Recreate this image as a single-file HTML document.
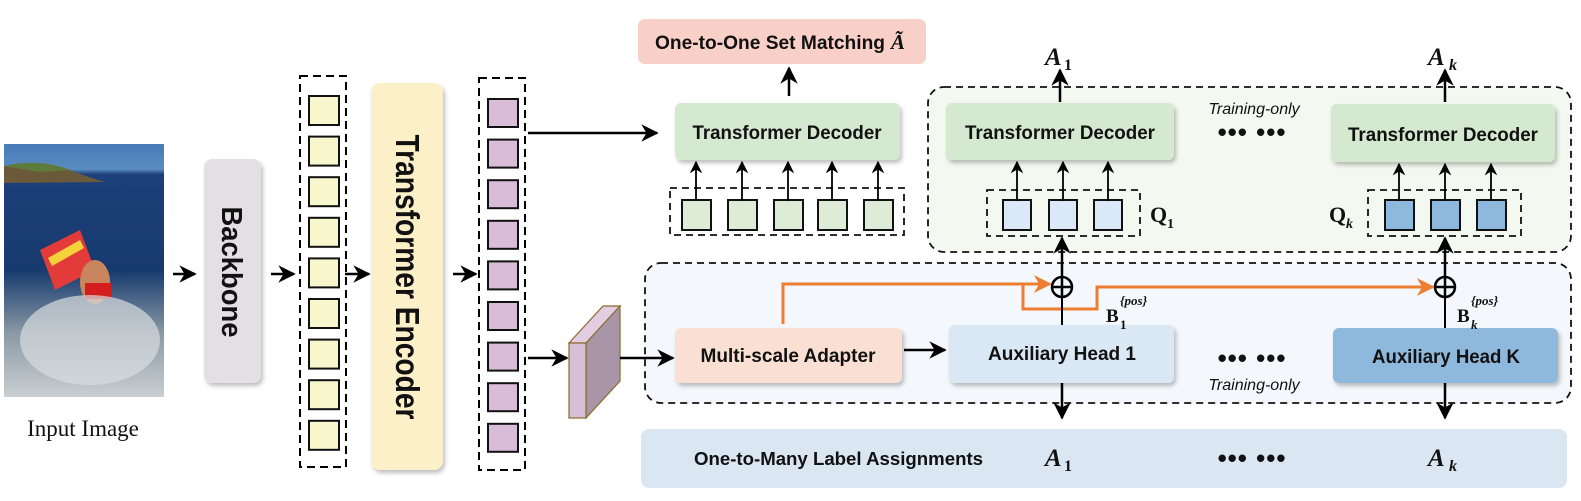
<!DOCTYPE html>
<html><head><meta charset="utf-8"><style>
html,body{margin:0;padding:0;background:#fff}
svg{display:block}
.b{font-family:"Liberation Sans",sans-serif;font-weight:bold;fill:#111}
.m{font-family:"Liberation Serif",serif;font-weight:bold;font-style:italic;fill:#111}
.q{font-family:"Liberation Serif",serif;font-weight:bold;fill:#111}
.it{font-family:"Liberation Sans",sans-serif;font-style:italic;fill:#111}
</style></head><body>
<svg width="1581" height="501" viewBox="0 0 1581 501" xmlns="http://www.w3.org/2000/svg">
<defs>
<marker id="ar" viewBox="0 0 10 10" refX="9" refY="5" markerWidth="7" markerHeight="7" orient="auto-start-reverse"><path d="M0,0 L10,5 L0,10 L3,5 z" fill="#000"/></marker>
<marker id="ao" viewBox="0 0 10 10" refX="9" refY="5" markerWidth="6" markerHeight="6" orient="auto"><path d="M0,0 L10,5 L0,10 L3,5 z" fill="#ed7d31"/></marker>
<linearGradient id="sea" x1="0" y1="0" x2="0" y2="1">
<stop offset="0" stop-color="#4a79b8"/><stop offset="0.1" stop-color="#5a8cc0"/><stop offset="0.12" stop-color="#1d3f7a"/><stop offset="0.5" stop-color="#173a6e"/><stop offset="0.75" stop-color="#8b9aa6"/><stop offset="1" stop-color="#c9cfd2"/></linearGradient>
<filter id="sh" x="-10%" y="-10%" width="130%" height="130%"><feDropShadow dx="2" dy="3" stdDeviation="2" flood-color="#000" flood-opacity="0.25"/></filter>
</defs>

<rect x="4" y="144" width="160" height="253" fill="url(#sea)"/>
<path d="M4,166 Q40,160 70,170 Q90,178 105,182 L4,183 z" fill="#6a5a3a"/>
<path d="M4,166 Q40,158 70,170 L40,172 z" fill="#5e7a3c"/>
<path d="M40,250 L80,230 L95,270 L55,290 z" fill="#e33a3a"/>
<path d="M48,258 L80,240 L84,248 L52,266 z" fill="#f3d23a"/>
<ellipse cx="95" cy="282" rx="15" ry="22" fill="#c9855d"/>
<rect x="85" y="283" width="26" height="16" fill="#d41e1e"/>
<ellipse cx="90" cy="340" rx="70" ry="45" fill="#d8dde0" opacity="0.7"/>
<text x="83" y="436" font-family="Liberation Serif,serif" font-size="23" text-anchor="middle" fill="#111">Input Image</text>

<line x1="173" y1="274" x2="195" y2="274" stroke="#000" stroke-width="2.5" marker-end="url(#ar)"/>
<rect x="204" y="159" width="57" height="224" rx="8" fill="#e2e0e2" filter="url(#sh)"/>
<text class="b" font-size="29" transform="translate(222,272) rotate(90)" text-anchor="middle" textLength="131" lengthAdjust="spacingAndGlyphs">Backbone</text>
<line x1="271" y1="274" x2="294" y2="274" stroke="#000" stroke-width="2.5" marker-end="url(#ar)"/>

<rect x="300" y="76" width="46" height="391" fill="none" stroke="#000" stroke-width="2" stroke-dasharray="8,5"/>
<g fill="#f7f6cc" stroke="#111" stroke-width="2">
<rect x="309" y="96" width="30" height="29"/><rect x="309" y="136.6" width="30" height="29"/><rect x="309" y="177.2" width="30" height="29"/><rect x="309" y="217.8" width="30" height="29"/><rect x="309" y="258.4" width="30" height="29"/><rect x="309" y="299" width="30" height="29"/><rect x="309" y="339.6" width="30" height="29"/><rect x="309" y="380.2" width="30" height="29"/><rect x="309" y="420.8" width="30" height="29"/>
</g>
<line x1="345" y1="274" x2="369" y2="274" stroke="#000" stroke-width="2.5" marker-end="url(#ar)"/>
<rect x="371" y="83" width="72" height="387" rx="9" fill="#fcf0c8" filter="url(#sh)"/>
<text class="b" font-size="33" transform="translate(396,277) rotate(90)" text-anchor="middle" textLength="285" lengthAdjust="spacingAndGlyphs">Transformer Encoder</text>
<line x1="453" y1="274" x2="476" y2="274" stroke="#000" stroke-width="2.5" marker-end="url(#ar)"/>

<rect x="479" y="78" width="46" height="392" fill="none" stroke="#000" stroke-width="2" stroke-dasharray="8,5"/>
<g fill="#d8bcd8" stroke="#111" stroke-width="2">
<rect x="488" y="99" width="30" height="28"/><rect x="488" y="139.6" width="30" height="28"/><rect x="488" y="180.2" width="30" height="28"/><rect x="488" y="220.8" width="30" height="28"/><rect x="488" y="261.4" width="30" height="28"/><rect x="488" y="302" width="30" height="28"/><rect x="488" y="342.6" width="30" height="28"/><rect x="488" y="383.2" width="30" height="28"/><rect x="488" y="423.8" width="30" height="28"/>
</g>
<line x1="528" y1="133" x2="657" y2="133" stroke="#000" stroke-width="2.5" marker-end="url(#ar)"/>
<line x1="528" y1="358" x2="567" y2="358" stroke="#000" stroke-width="2.5" marker-end="url(#ar)"/>
<polygon points="569,343 603,306 620,306 586,343" fill="#e3cde3" stroke="#8a6a2a" stroke-width="1.2"/>
<polygon points="586,343 620,306 620,381 586,418" fill="#a896a8" stroke="#8a6a2a" stroke-width="1.2"/>
<rect x="569" y="343" width="17" height="75" fill="#d8bfd8" stroke="#8a6a2a" stroke-width="1.2"/>

<rect x="928" y="87" width="643" height="165" rx="16" fill="#f3f8f0" stroke="#111" stroke-width="1.8" stroke-dasharray="7,5"/>
<rect x="645" y="263" width="926" height="140" rx="16" fill="#f4f7fb" stroke="#111" stroke-width="1.8" stroke-dasharray="7,5"/>
<rect x="641" y="429" width="926" height="59" rx="8" fill="#dae6f2"/>

<rect x="638" y="19" width="288" height="45" rx="7" fill="#f9d0c8"/>
<text class="b" x="655" y="49" font-size="19" textLength="230" lengthAdjust="spacingAndGlyphs">One-to-One Set Matching</text>
<text class="m" x="891" y="49" font-size="21">Ã</text>
<line x1="789" y1="96" x2="789" y2="68" stroke="#000" stroke-width="2.5" marker-end="url(#ar)"/>

<rect x="675" y="103" width="225" height="57" rx="6" fill="#d4e9cf" filter="url(#sh)"/>
<text class="b" x="787" y="139" font-size="19" text-anchor="middle" textLength="189" lengthAdjust="spacingAndGlyphs">Transformer Decoder</text>
<rect x="670" y="188" width="234" height="47" fill="none" stroke="#111" stroke-width="1.8" stroke-dasharray="7,5"/>
<g fill="#dcecd6" stroke="#111" stroke-width="2">
<rect x="682" y="200" width="29" height="30"/><rect x="728" y="200" width="29" height="30"/><rect x="774" y="200" width="29" height="30"/><rect x="818" y="200" width="29" height="30"/><rect x="864" y="200" width="29" height="30"/>
</g>
<g stroke="#000" stroke-width="1.8" marker-end="url(#ar)">
<line x1="696" y1="201" x2="696" y2="162"/><line x1="742" y1="201" x2="742" y2="162"/><line x1="788" y1="201" x2="788" y2="162"/><line x1="832" y1="201" x2="832" y2="162"/><line x1="878" y1="201" x2="878" y2="162"/>
</g>

<rect x="946" y="103" width="228" height="57" rx="6" fill="#d4e9cf" filter="url(#sh)"/>
<text class="b" x="1060" y="139" font-size="19" text-anchor="middle" textLength="190" lengthAdjust="spacingAndGlyphs">Transformer Decoder</text>
<rect x="1331" y="104" width="224" height="58" rx="6" fill="#d4e9cf" filter="url(#sh)"/>
<text class="b" x="1443" y="141" font-size="19" text-anchor="middle" textLength="190" lengthAdjust="spacingAndGlyphs">Transformer Decoder</text>
<text class="m" x="1045" y="65" font-size="25">A</text><text class="q" x="1064" y="70" font-size="16">1</text>
<text class="m" x="1428" y="65" font-size="25">A</text><text class="m" x="1449" y="70" font-size="16">k</text>
<line x1="1060" y1="102" x2="1060" y2="70" stroke="#000" stroke-width="2.5" marker-end="url(#ar)"/>
<line x1="1445" y1="102" x2="1445" y2="70" stroke="#000" stroke-width="2.5" marker-end="url(#ar)"/>
<text class="it" x="1254" y="114" font-size="16" text-anchor="middle">Training-only</text>
<text class="b" x="1252" y="141" font-size="26" text-anchor="middle" letter-spacing="1">••• •••</text>

<rect x="987" y="190" width="153" height="46" fill="none" stroke="#111" stroke-width="1.8" stroke-dasharray="7,5"/>
<g fill="#dae8f8" stroke="#111" stroke-width="2">
<rect x="1003" y="200" width="28" height="30"/><rect x="1049" y="200" width="28" height="30"/><rect x="1094" y="200" width="28" height="30"/>
</g>
<text class="q" x="1150" y="222" font-size="22">Q</text><text class="q" x="1167" y="228" font-size="14">1</text>
<rect x="1368" y="190" width="153" height="46" fill="none" stroke="#111" stroke-width="1.8" stroke-dasharray="7,5"/>
<g fill="#8fb8dd" stroke="#111" stroke-width="2">
<rect x="1385" y="200" width="29" height="30"/><rect x="1431" y="200" width="29" height="30"/><rect x="1477" y="200" width="29" height="30"/>
</g>
<text class="q" x="1329" y="222" font-size="22">Q</text><text class="m" x="1346" y="228" font-size="14">k</text>
<g stroke="#000" stroke-width="1.8" marker-end="url(#ar)">
<line x1="1017" y1="201" x2="1017" y2="162"/><line x1="1063" y1="201" x2="1063" y2="162"/><line x1="1108" y1="201" x2="1108" y2="162"/>
<line x1="1399" y1="201" x2="1399" y2="164"/><line x1="1445" y1="201" x2="1445" y2="164"/><line x1="1491" y1="201" x2="1491" y2="164"/>
</g>
<line x1="1062" y1="277" x2="1062" y2="238" stroke="#000" stroke-width="2.5" marker-end="url(#ar)"/>
<line x1="1445" y1="277" x2="1445" y2="238" stroke="#000" stroke-width="2.5" marker-end="url(#ar)"/>

<line x1="620" y1="358" x2="673" y2="358" stroke="#000" stroke-width="2.5" marker-end="url(#ar)"/>
<rect x="675" y="328" width="227" height="55" rx="6" fill="#f9e0d3" filter="url(#sh)"/>
<text class="b" x="788" y="362" font-size="19" text-anchor="middle" textLength="175" lengthAdjust="spacingAndGlyphs">Multi-scale Adapter</text>
<line x1="904" y1="350" x2="945" y2="350" stroke="#000" stroke-width="2.5" marker-end="url(#ar)"/>
<rect x="949" y="325" width="225" height="58" rx="6" fill="#dae8f6" filter="url(#sh)"/>
<text class="b" x="1062" y="360" font-size="19" text-anchor="middle" textLength="148" lengthAdjust="spacingAndGlyphs">Auxiliary Head 1</text>
<rect x="1333" y="328" width="225" height="55" rx="6" fill="#8fb8dd" filter="url(#sh)"/>
<text class="b" x="1446" y="363" font-size="19" text-anchor="middle" textLength="148" lengthAdjust="spacingAndGlyphs">Auxiliary Head K</text>
<text class="b" x="1252" y="367" font-size="26" text-anchor="middle" letter-spacing="1">••• •••</text>
<text class="it" x="1254" y="390" font-size="16" text-anchor="middle">Training-only</text>

<path d="M783,324 L783,284 L1050,284" fill="none" stroke="#ed7d31" stroke-width="3" marker-end="url(#ao)"/>
<path d="M1023,284 L1023,309 L1097,309 L1097,287 L1433,287" fill="none" stroke="#ed7d31" stroke-width="3" marker-end="url(#ao)"/>
<line x1="1062" y1="296" x2="1062" y2="325" stroke="#000" stroke-width="2"/>
<line x1="1445" y1="296" x2="1445" y2="328" stroke="#000" stroke-width="2"/>
<g fill="none" stroke="#000" stroke-width="2.5">
<circle cx="1062" cy="287" r="10"/><line x1="1052" y1="287" x2="1072" y2="287"/><line x1="1062" y1="277" x2="1062" y2="297"/>
<circle cx="1445" cy="287" r="10"/><line x1="1435" y1="287" x2="1455" y2="287"/><line x1="1445" y1="277" x2="1445" y2="297"/>
</g>
<text class="q" x="1106" y="322" font-size="19">B</text><text class="q" x="1120" y="329" font-size="13">1</text><text class="m" x="1120" y="305" font-size="13">{pos}</text>
<text class="q" x="1457" y="322" font-size="19">B</text><text class="m" x="1471" y="329" font-size="13">k</text><text class="m" x="1471" y="305" font-size="13">{pos}</text>

<line x1="1062" y1="383" x2="1062" y2="418" stroke="#000" stroke-width="2.5" marker-end="url(#ar)"/>
<line x1="1445" y1="383" x2="1445" y2="418" stroke="#000" stroke-width="2.5" marker-end="url(#ar)"/>
<text class="b" x="694" y="465" font-size="18" textLength="289" lengthAdjust="spacingAndGlyphs">One-to-Many Label Assignments</text>
<text class="m" x="1045" y="466" font-size="25">A</text><text class="q" x="1064" y="471" font-size="16">1</text>
<text class="b" x="1252" y="467" font-size="26" text-anchor="middle" letter-spacing="1">••• •••</text>
<text class="m" x="1428" y="466" font-size="25">A</text><text class="m" x="1449" y="471" font-size="16">k</text>
</svg>
</body></html>
